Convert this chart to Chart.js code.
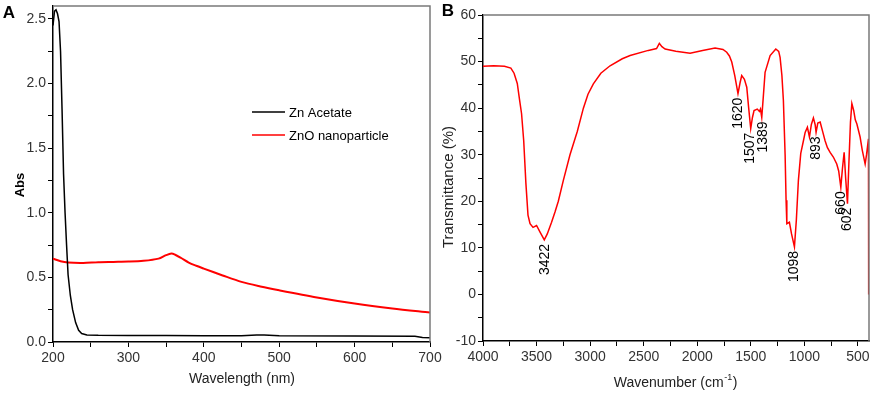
<!DOCTYPE html>
<html>
<head>
<meta charset="utf-8">
<script src="https://cdn.jsdelivr.net/npm/chart.js@4.4.1/dist/chart.umd.min.js"></script>
<style>
  html, body { margin: 0; padding: 0; background: #fff; }
  #wrap { position: relative; width: 872px; height: 395px; }
  canvas { position: absolute; top: 0; }
  #uv { left: 0; }
  #ftir { left: 436px; }
</style>
</head>
<body>
<div id="wrap">
  <canvas id="uv" width="452" height="395"></canvas>
  <canvas id="ftir" width="436" height="395"></canvas>
</div>
<script>
// ---- panel A : UV-vis ----
const acetateNm  = [200, 202, 204, 206, 208, 210, 212, 214, 216, 218, 220, 223, 226, 230, 234, 238, 245, 260, 300, 350, 400, 450, 470, 480, 500, 600, 680, 690, 700];
const acetateAbs = [2.45, 2.56, 2.57, 2.54, 2.48, 2.25, 1.8, 1.3, 1.0, 0.75, 0.52, 0.36, 0.25, 0.15, 0.09, 0.065, 0.055, 0.052, 0.05, 0.05, 0.048, 0.048, 0.055, 0.055, 0.048, 0.046, 0.044, 0.035, 0.033];

const znoNm  = [200, 210, 220, 240, 260, 280, 300, 320, 340, 350, 357, 362, 370, 380, 390, 400, 425, 450, 475, 500, 550, 600, 650, 700];
const znoAbs = [0.645, 0.625, 0.615, 0.612, 0.618, 0.62, 0.622, 0.628, 0.645, 0.672, 0.684, 0.675, 0.65, 0.615, 0.59, 0.568, 0.515, 0.465, 0.43, 0.40, 0.345, 0.298, 0.26, 0.229];

const uvXMajor = [200, 300, 400, 500, 600, 700];
const uvXMinor = [250, 350, 450, 550, 650];
const uvYMajor = [0, 0.5, 1.0, 1.5, 2.0, 2.5];
const uvYMinor = [0.25, 0.75, 1.25, 1.75, 2.25];

// ---- panel B : FTIR ----
const wavenumber = [4000, 3900, 3800, 3740, 3710, 3680, 3660, 3640, 3620, 3600, 3580, 3561, 3533, 3500, 3470, 3428, 3400, 3360, 3328, 3297, 3250, 3188, 3120, 3063, 3020, 2970, 2900, 2814, 2700, 2627, 2457, 2380, 2354, 2330, 2300, 2200, 2067, 1950, 1834, 1760, 1725, 1700, 1678, 1650, 1620, 1600, 1585, 1560, 1538, 1520, 1501, 1485, 1470, 1440, 1420, 1410, 1398, 1385, 1367, 1320, 1267, 1240, 1227, 1210, 1196, 1180, 1171, 1164, 1140, 1120, 1093, 1075, 1056, 1034, 1009, 993, 972, 953, 935, 916, 900, 891, 875, 853, 830, 807, 785, 760, 730, 698, 680, 660, 645, 629, 615, 598, 585, 570, 557, 540, 525, 510, 480, 460, 433, 420, 402, 400];
const transmittance = [49.0, 49.1, 49.0, 48.6, 47.5, 45.3, 42, 38.8, 33, 24, 17, 15.2, 14.4, 14.8, 13.5, 11.7, 13, 15.5, 17.7, 20, 24.5, 30, 35, 40, 43, 45.2, 47.5, 49.1, 50.6, 51.3, 52.4, 52.8, 53.9, 53.2, 52.7, 52.2, 51.8, 52.4, 52.9, 52.6, 52.0, 51.2, 49.9, 47, 43.1, 45.5, 47.0, 46.2, 44.5, 40, 35.6, 38, 39.5, 39.8, 39.3, 39.8, 38.0, 42, 47.7, 51.3, 52.7, 52.2, 50.9, 47, 41.6, 30, 20.2, 15.2, 15.5, 13, 10.2, 16, 24.5, 30.3, 33.0, 34.8, 35.9, 33.8, 36.5, 37.9, 36.5, 34.8, 36.8, 37.0, 35, 33.0, 31.5, 30.5, 29.5, 28.0, 26.5, 23.0, 27, 30.5, 25, 19.5, 28, 37, 41.0, 39.5, 37.5, 36.6, 33.8, 31, 28.0, 30, 33.4, 0];

const peakLabels = [3422, 1620, 1507, 1389, 1098, 893, 660, 602];

const irXMajor = [4000, 3500, 3000, 2500, 2000, 1500, 1000, 500];
const irXMinor = [3750, 3250, 2750, 2250, 1750, 1250, 750];
const irYMajor = [-10, 0, 10, 20, 30, 40, 50, 60];
const irYMinor = [-5, 5, 15, 25, 35, 45, 55];

const tickFont = { family: "'Liberation Sans Narrow', 'Arial Narrow', Arial, 'Liberation Sans', sans-serif", size: 14 };
const sans = "Arial, 'Liberation Sans', sans-serif";
const narrow = "'Liberation Sans Narrow', 'Arial Narrow', Arial, 'Liberation Sans', sans-serif";

function toPoints(xs, ys) {
  return xs.map((x, i) => ({ x: x, y: ys[i] }));
}

function makeAxis(min, max, major, minor, fmt, size, horizontal) {
  const all = major.concat(minor).sort((a, b) => a - b);
  return {
    type: 'linear',
    min: min,
    max: max,
    border: { color: '#000', width: 1.5 },
    grid: { drawOnChartArea: false, drawTicks: true, tickLength: 5, color: '#000' },
    ticks: {
      font: tickFont,
      color: '#333',
      padding: horizontal ? 3 : 2,
      autoSkip: false,
      maxRotation: 0,
      callback: v => major.includes(v) ? fmt(v) : ''
    },
    afterBuildTicks: s => { s.ticks = all.map(v => ({ value: v })); },
    afterFit: s => {
      if (horizontal) { s.height = size; s.paddingLeft = 0; s.paddingRight = 0; }
      else { s.width = size; s.paddingTop = 0; s.paddingBottom = 0; }
    }
  };
}

function drawFrame(chart) {
  const a = chart.chartArea, ctx = chart.ctx;
  ctx.save();
  ctx.strokeStyle = '#7a7a7a';
  ctx.lineWidth = 1.5;
  ctx.beginPath();
  ctx.moveTo(a.left, a.top);
  ctx.lineTo(a.right, a.top);
  ctx.lineTo(a.right, a.bottom);
  ctx.stroke();
  ctx.restore();
}

function rotatedText(ctx, text, x, y, align) {
  ctx.save();
  ctx.translate(x, y);
  ctx.rotate(-Math.PI / 2);
  ctx.textAlign = align;
  ctx.textBaseline = 'middle';
  ctx.fillText(text, 0, 0);
  ctx.restore();
}

const uvText = {
  id: 'uvText',
  afterDatasetsDraw: drawFrame,
  afterDraw(chart) {
    const ctx = chart.ctx;
    ctx.save();
    ctx.fillStyle = '#000';
    ctx.font = 'bold 17px ' + sans;
    ctx.textAlign = 'center';
    ctx.textBaseline = 'middle';
    ctx.fillText('A', 9, 13);

    ctx.font = 'bold 13px ' + sans;
    rotatedText(ctx, 'Abs', 20, 185, 'center');

    ctx.font = '14px ' + narrow;
    ctx.fillStyle = '#222';
    ctx.textAlign = 'center';
    ctx.fillText('Wavelength (nm)', 242, 379);

    // legend
    const items = [['Zn Acetate', '#000', 112], ['ZnO nanoparticle', '#ff0000', 135]];
    ctx.font = '13px ' + sans;
    ctx.textAlign = 'left';
    items.forEach(([label, color, y]) => {
      ctx.strokeStyle = color;
      ctx.lineWidth = 1.5;
      ctx.beginPath();
      ctx.moveTo(252, y);
      ctx.lineTo(285, y);
      ctx.stroke();
      ctx.fillStyle = '#000';
      ctx.fillText(label, 289, y + 1);
    });
    ctx.restore();
  }
};

new Chart(document.getElementById('uv'), {
  type: 'line',
  data: {
    datasets: [
      { label: 'Zn Acetate', data: toPoints(acetateNm, acetateAbs), borderColor: '#000', borderWidth: 1.5, pointRadius: 0, tension: 0 },
      { label: 'ZnO nanoparticle', data: toPoints(znoNm, znoAbs), borderColor: '#ff0000', borderWidth: 2, pointRadius: 0, tension: 0.3 }
    ]
  },
  options: {
    responsive: false,
    animation: false,
    devicePixelRatio: 1,
    layout: { padding: { top: 6, right: 22, left: 0, bottom: 0 } },
    plugins: { legend: { display: false }, tooltip: { enabled: false } },
    scales: {
      x: makeAxis(200, 700, uvXMajor, uvXMinor, v => String(v), 53, true),
      y: makeAxis(0, 2.6, uvYMajor, uvYMinor, v => v.toFixed(1), 53, false)
    }
  },
  plugins: [uvText]
});

const irText = {
  id: 'irText',
  afterDatasetsDraw: drawFrame,
  afterDraw(chart) {
    const ctx = chart.ctx;
    const xs = chart.scales.x, ys = chart.scales.y;
    ctx.save();
    ctx.fillStyle = '#000';
    ctx.font = 'bold 17px ' + sans;
    ctx.textAlign = 'center';
    ctx.textBaseline = 'middle';
    ctx.fillText('B', 12, 11);

    ctx.font = '15px ' + sans;
    ctx.fillStyle = '#222';
    rotatedText(ctx, 'Transmittance (%)', 13, 187, 'center');

    // x title with superscript
    ctx.font = '14px ' + narrow;
    const main = 'Wavenumber (cm';
    const wMain = ctx.measureText(main).width;
    ctx.font = '9px ' + narrow;
    const wSup = ctx.measureText('-1').width;
    ctx.font = '14px ' + narrow;
    const wEnd = ctx.measureText(')').width;
    let x0 = 239 - (wMain + wSup + wEnd) / 2;
    ctx.textAlign = 'left';
    ctx.fillText(main, x0, 383);
    ctx.font = '9px ' + narrow;
    ctx.fillText('-1', x0 + wMain + 0.5, 378);
    ctx.font = '14px ' + narrow;
    ctx.fillText(')', x0 + wMain + wSup + 1, 383);

    // peak labels, just below the local minimum of the curve
    ctx.fillStyle = '#000';
    ctx.font = '14px ' + sans;
    peakLabels.forEach(p => {
      let tMin = Infinity;
      wavenumber.forEach((w, i) => {
        if (Math.abs(w - p) <= 15 && transmittance[i] < tMin) tMin = transmittance[i];
      });
      rotatedText(ctx, String(p), xs.getPixelForValue(p), ys.getPixelForValue(tMin) + 4, 'right');
    });
    ctx.restore();
  }
};

new Chart(document.getElementById('ftir'), {
  type: 'line',
  data: {
    datasets: [
      { label: 'FTIR', data: toPoints(wavenumber, transmittance), borderColor: '#ff0000', borderWidth: 1.5, pointRadius: 0, tension: 0 }
    ]
  },
  options: {
    responsive: false,
    animation: false,
    devicePixelRatio: 1,
    layout: { padding: { top: 15, right: 3, left: 0, bottom: 0 } },
    plugins: { legend: { display: false }, tooltip: { enabled: false } },
    scales: {
      x: Object.assign(makeAxis(397, 4000, irXMajor, irXMinor, v => String(v), 54, true), { reverse: true }),
      y: makeAxis(-10, 60, irYMajor, irYMinor, v => String(v), 47, false)
    }
  },
  plugins: [irText]
});
</script>
</body>
</html>
